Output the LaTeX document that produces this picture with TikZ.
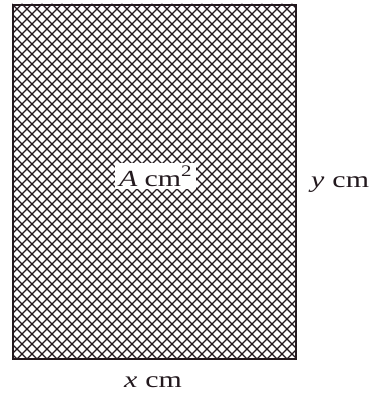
\documentclass[tikz,border=0pt]{standalone}
\usepackage{fontspec}
\setmainfont{Liberation Serif}
\newfontfamily\wideserif[FakeStretch=1.3]{Liberation Serif}
\definecolor{ink}{RGB}{35,25,30}
\begin{document}
\begin{tikzpicture}[x=1pt,y=-1pt,
  lbl/.style={font=\wideserif\fontsize{23}{26}\selectfont, inner sep=0pt, text=ink},
  hatch/.style={draw=ink, line width=1.4pt}]
\useasboundingbox (0,0) rectangle (374,396);
\coordinate (tl) at (12,4);
\coordinate (br) at (295,358);
\begin{scope}
  \clip (tl) rectangle (br);
  \foreach \i in {-40,...,70} {
    \draw[hatch] (12+10*\i,4) -- ++(-400,400);
    \draw[hatch] (12-10*\i,4) -- ++(400,400);
  }
\end{scope}
\node[draw=ink, line width=1.6pt, minimum width=283pt, minimum height=354pt, inner sep=0pt, anchor=north west] (box) at (tl) {};
\node[lbl, fill=white, inner xsep=4pt, inner ysep=3pt, anchor=base west] (area) at (115,186) {\textit{A}\hspace{7pt}cm\textsuperscript{2}};
\node[lbl, anchor=base west] (ylab) at (311,187) {\textit{y}\hspace{8pt}cm};
\node[lbl, anchor=base west] (xlab) at (124,387) {\textit{x}\hspace{8pt}cm};
\end{tikzpicture}
\end{document}
